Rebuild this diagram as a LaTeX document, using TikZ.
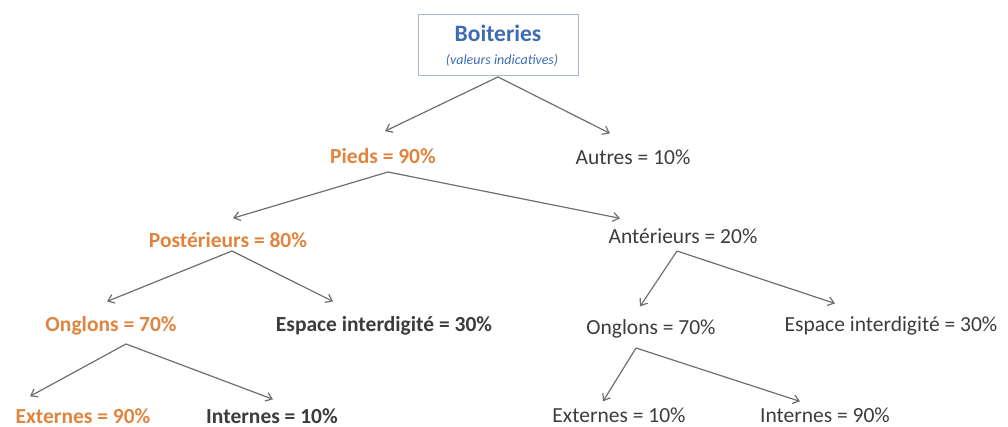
\documentclass[tikz,border=0pt]{standalone}
\usepackage{fontspec}
\setmainfont{Carlito}
\usetikzlibrary{arrows.meta}
\definecolor{orangetxt}{HTML}{E0843F}
\definecolor{darktxt}{HTML}{3C3C3C}
\definecolor{bluetxt}{HTML}{3D6CB4}
\definecolor{boxline}{HTML}{A9B6D9}
\definecolor{arrowgray}{HTML}{6E6E6E}
\tikzset{
  lbl/.style={inner sep=2pt, font=\fontsize{21.5}{24}\selectfont, text=darktxt},
  orng/.style={lbl, text=orangetxt, font=\fontsize{21.5}{24}\selectfont\bfseries},
  bdark/.style={lbl, font=\fontsize{21.5}{24}\selectfont\bfseries},
  arr/.style={draw=arrowgray, line width=1.2pt, -{Straight Barb[length=6pt,width=9pt]}},
}
\begin{document}
\begin{tikzpicture}[x=1pt,y=-1pt]
\useasboundingbox (0,0) rectangle (1008,427);
% root
\node[draw=boxline, line width=0.9pt, minimum width=160pt, minimum height=61pt, inner sep=0pt] (root) at (498,45) {};
\node[font=\fontsize{23.5}{26}\selectfont\bfseries, text=bluetxt, inner sep=0pt] (roott) at (498,33) {Boiteries};
\node[font=\fontsize{14}{16}\selectfont\itshape, text=bluetxt, inner sep=0pt] (roots) at (502,60) {(valeurs indicatives)};
% level 1
\node[orng] (pieds) at (383,156) {Pieds = 90\%};
\node[lbl] (autres) at (633,157) {Autres = 10\%};
% level 2
\node[orng] (post) at (228,240) {Postérieurs = 80\%};
\node[lbl] (ant) at (683,236) {Antérieurs = 20\%};
% level 3
\node[orng] (ongL) at (111,326) {Onglons = 70\%};
\node[bdark] (espL) at (384,326) {Espace interdigité = 30\%};
\node[lbl] (ongR) at (651,329) {Onglons = 70\%};
\node[lbl] (espR) at (891,326) {Espace interdigité = 30\%};
% level 4
\node[orng] (extL) at (83,416) {Externes = 90\%};
\node[bdark] (intL) at (272,416) {Internes = 10\%};
\node[lbl] (extR) at (619,415) {Externes = 10\%};
\node[lbl] (intR) at (825,415) {Internes = 90\%};
% apexes
\coordinate (a0) at ([yshift=-1pt]root.south);
\coordinate (a1) at (388,172);
\coordinate (a2) at (232,251);
\coordinate (a3) at (677,251);
\coordinate (a4) at (126,344);
\coordinate (a5) at (636,348);
% arrows
\draw[arr] (a0) -- ([xshift=2pt,yshift=15pt]pieds.north);
\draw[arr] (a0) -- ([xshift=-23pt,yshift=14pt]autres.north);
\draw[arr] (a1) -- ([xshift=5pt,yshift=12pt]post.north);
\draw[arr] (a1) -- ([xshift=-63pt,yshift=8pt]ant.north);
\draw[arr] (a2) -- ([xshift=-4pt,yshift=13pt]ongL.north);
\draw[arr] (a2) -- ([xshift=-51pt,yshift=13pt]espL.north);
\draw[arr] (a3) -- ([xshift=-11pt,yshift=11pt]ongR.north);
\draw[arr] (a3) -- ([xshift=-56pt,yshift=11pt]espR.north);
\draw[arr] (a4) -- ([xshift=-53pt,yshift=10pt]extL.north);
\draw[arr] (a4) -- ([xshift=1pt,yshift=7pt]intL.north);
\draw[arr] (a5) -- ([xshift=-16pt,yshift=4pt]extR.north);
\draw[arr] (a5) -- ([xshift=-25pt,yshift=4pt]intR.north);
\end{tikzpicture}
\end{document}
